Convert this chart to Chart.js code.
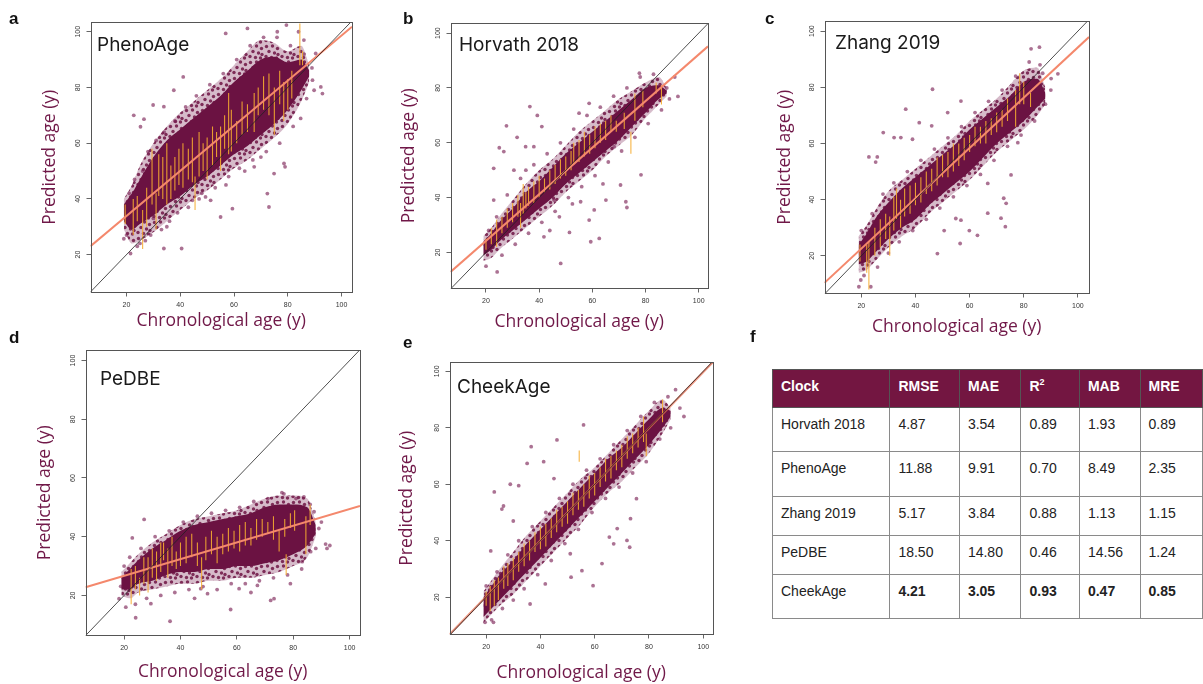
<!DOCTYPE html>
<html>
<head>
<meta charset="utf-8">
<script src="https://cdn.jsdelivr.net/npm/chart.js@4.4.1/dist/chart.umd.min.js"></script>
<style>
  body { margin: 0; background: #fff; width: 1203px; height: 684px; position: relative; overflow: hidden; }
  canvas { position: absolute; }
  .letter { position: absolute; font: bold 17px Arial, "Liberation Sans", sans-serif; line-height: 17px; color: #111; }
  .name { position: absolute; font: 19px Inter, sans-serif; line-height: 19px; color: #1a1a1a; white-space: nowrap; }
  #tbl { position: absolute; left: 772px; top: 369px; border-collapse: collapse; table-layout: fixed;
         font: 14px Arial, "Liberation Sans", sans-serif; color: #222; }
  #tbl td { border: 1px solid #8a8a8a; vertical-align: top; padding: 8px 0 0 8px; line-height: 16px; white-space: nowrap; }
  #tbl tr.head td { background: #731641; color: #fff; font-weight: bold; border-color: #555; }
  #tbl sup { font-size: 9px; line-height: 0; vertical-align: 6px; }
</style>
</head>
<body>
<script>
// shared age grid for the cloud outlines
const ageBins = [19, 22, 25, 30, 35, 40, 45, 50, 55, 60, 65, 70, 75, 80, 85, 88];
const tickValues = [20, 40, 60, 80, 100];

// a - PhenoAge
const aOuterLow  = [29, 24, 25, 28, 32, 36, 40, 43, 47, 51, 54, 58, 62, 67, 75, 82];
const aOuterHigh = [40, 45, 52, 60, 66, 71, 75, 79, 83, 88, 93, 97, 96, 93, 95, 88];
const aInnerLow  = [32, 29, 31, 34, 38, 41, 45, 48, 52, 56, 59, 63, 67, 72, 79, 84];
const aInnerHigh = [38, 42, 47, 55, 61, 65, 69, 73, 77, 82, 86, 90, 91, 89, 90, 86];
const aFit = [6.6, 23, 103.9, 101.8];
const aPoints = [[22.7,70],[25.2,65.9],[26.5,68.6],[29.9,73.7],[33.9,73.1],[41.1,83.8],[37.6,79],[56.9,99.4],[65,101.2],[76.1,100],[79.5,102.4],
  [33.9,22.2],[40.5,22.2],[55,33.5],[59.4,36.5],[73,37.1],[72.4,41.9],[78.6,52.7],[79,51.5],[74.9,49.1],[67.5,51.5],[89.8,79],[92.3,80.2],
  [92.9,77.8],[90.4,92.2],[89.2,82.6],[84.8,68.9],[21.5,20.4],[19,25.7],[44.5,39.5],[49.4,40.7],[51.3,39.5],
  [20,27],[21,42],[23,47],[24,23],[26,50],[27,25],[28,57],[29,27],[31,61],[33,29],[34,64],[36,32],[38,68],[39,35],[42,73],[43,37],[46,77],
  [47,40],[51,81],[53,44],[56,85],[58,48],[61,90],[62,51],[66,95],[67,54],[71,98],[72,57],[76,98],[77,60],[81,95],[82,66],[86,97],[87,76],
  [89,87],[84,100],[86,92],[70,55],[64,50],[57,45],[48,42],[35,30],[30,33],[25,24]];
const aBars = [[19.5,31,38],[22.5,27,40],[24,32,41],[26,22,36],[27.5,30,44],[29.5,38,58],[31,29,42],[32,41,56],[33.5,40,55],[35,38,60],
  [36.5,40,52],[38,43,55],[39.5,45,58],[41,44,60],[43,47,58],[44.5,46,62],[45.5,36,48],[47,48,64],[48.5,50,60],[50,47,62],[52,52,66],
  [53.5,55,64],[55,50,66],[56.5,58,70],[58,56,78],[59,57,72],[61,60,68],[63,63,75],[65,64,74],[67.5,64,78],[69,70,80],[71,72,84],
  [73,70,85],[75,63,80],[77,74,86],[78.5,68,82],[80,72,83],[81.5,76,86],[84.5,88,103],[85.5,88,93]];

// b - Horvath 2018
const bOuterLow  = [17, 18, 21, 25, 29, 33, 37, 42, 46, 50, 55, 59, 63, 69, 74, 77];
const bOuterHigh = [26, 29, 33, 39, 45, 50, 54, 59, 64, 68, 72, 76, 79, 82, 84, 80];
const bInnerLow  = [19, 21, 24, 28, 32, 36, 40, 45, 49, 53, 57, 61, 66, 71, 76, 78];
const bInnerHigh = [24, 27, 31, 36, 42, 46, 51, 56, 60, 64, 68, 72, 76, 80, 81, 79];
const bFit = [6.65, 12.9, 103.5, 95.2];
const bPoints = [[22.9,39.1],[22.9,50.7],[27.7,66.2],[39.3,70],[36.5,73.2],[41,65.9],[31.7,62],[25,58.2],[26.7,56.8],[34.9,58.6],[38,58.6],
  [30.5,50],[48.1,16],[24.2,12.9],[41.8,25.7],[51.4,27.3],[59.4,23.9],[62.6,25.1],[55.6,38.5],[58.8,31.8],[72.6,38.5],[73,36.4],[65.1,39.1],
  [78.3,48.3],[60.7,35.5],[70.6,44.6],[52.5,37.7],[45.6,39.1],[47.6,33],[92.2,76.9],[91,84],[77.7,85.4],[58.8,74.4],[55,70.8],[68.2,58.6],
  [20,15],[21,28],[24,33],[26,19],[28,41],[31,23],[33,47],[36,27],[38,52],[41,31],[43,56],[46,35],[48,60],[51,40],[53,65],[56,44],[58,70],
  [61,48],[63,73],[66,53],[68,77],[71,57],[73,80],[76,62],[78,84],[81,67],[83,85],[86,72],[88,80],[89,76],[44,28],[64,45],[35,50]];
const bBars = [[20,21,25],[22,23,29],[24,22,32],[26,27,33],[28,29,36],[30,31,38],[32,33,41],[33,29,38],[34,34,45],[35,36,42],[36,37,44],
  [38,38,46],[40,40,48],[42,42,47],[44,43,50],[46,45,52],[48,47,54],[50,48,55],[52,50,57],[53,52,60],[55,53,61],[57,55,64],[59,56,63],
  [61,58,66],[63,60,67],[65,61,68],[67,64,70],[69,64,68],[72,65,71],[74.5,56,64],[76,68,78],[79,73,79],[84,78,82],[86,74,81]];

// c - Zhang 2019
const cOuterLow  = [14, 15, 18, 23, 27, 30, 35, 39, 43, 47, 52, 57, 61, 65, 70, 74];
const cOuterHigh = [27, 31, 36, 43, 47, 51, 55, 59, 63, 68, 72, 76, 81, 86, 87, 80];
const cInnerLow  = [17, 18, 21, 26, 30, 33, 38, 42, 46, 50, 55, 60, 64, 68, 73, 76];
const cInnerHigh = [24, 28, 33, 39, 44, 48, 52, 56, 60, 65, 69, 73, 77, 82, 83, 78];
const cFit = [6.4, 10.4, 104.1, 97.9];
const cPoints = [[22.8,55.2],[25.9,55.2],[25.3,53.4],[28.1,63.9],[32.1,62.1],[36.4,72.2],[34.6,62.1],[38.9,61.5],[41.4,67.4],[46.3,79.3],
  [46,66.3],[51.9,71],[56.8,75.1],[48.1,20.8],[56.5,24.4],[62.9,27.3],[50.6,29],[54.9,33.3],[56.8,32.7],[59.9,29],[66.7,35.2],[71.6,33.4],
  [73.2,30.4],[72.6,40.5],[73.5,38.7],[75.3,48.8],[66.7,45.8],[77.8,60.3],[85.8,94.3],[82.7,93.7],[92.6,84.8],[90.1,83.1],[19.1,9],[23.5,9],
  [19.8,11.4],[20,29],[21,13],[24,35],[26,16],[28,42],[30,21],[32,46],[34,25],[37,50],[39,29],[42,54],[44,33],[47,58],[49,37],[52,62],
  [54,41],[57,66],[59,45],[62,71],[64,49],[67,75],[69,54],[72,79],[74,59],[77,84],[79,63],[82,89],[84,68],[87,85],[88,74],[90,79],[86,88]];
const cBars = [[19.5,18,24],[22,14,24],[22.8,8,25],[25,20,30],[27,23,33],[29,26,35],[30.5,20,34],[32,29,41],[33,33,44],[34.5,30,40],
  [36,34,44],[38,35,45],[40,38,46],[42,39,48],[44,42,50],[46,43,51],[48,45,55],[50,48,56],[52,48,57],[54,50,60],[56,52,60],[58,54,62],
  [60,57,63],[62,59,66],[64,60,66],[66,60,68],[68,63,69],[70,64,71],[72,66,72],[74,68,76],[77,66,79],[78.5,74,85],[80,74,82],[82.5,73,78]];

// d - PeDBE
const dOuterLow  = [20, 19, 21, 22, 23, 24, 24, 25, 25, 26, 26, 27, 28, 30, 33, 40];
const dOuterHigh = [28, 31, 34, 38, 41, 44, 46, 47, 48, 49, 51, 53, 54, 54, 53, 45];
const dInnerLow  = [22, 22, 24, 25, 27, 28, 28, 29, 29, 30, 30, 31, 32, 34, 37, 41];
const dInnerHigh = [26, 29, 32, 36, 39, 42, 44, 45, 46, 47, 48, 50, 51, 51, 50, 44];
const dFit = [6.3, 22.8, 103.7, 50.5];
const dPoints = [[18.8,23.1],[18.2,18.9],[20.6,16],[24.1,12.4],[36.3,11.2],[57.8,15.2],[29.5,17.2],[27.1,45.9],[22.9,39.6],[91.5,37.5],
  [93,37],[89.1,42.8],[87.4,48.5],[86.2,34.9],[83.2,31.5],[73.2,18.9],[72,18.3],[67.3,23.4],[60.8,22.3],[49.6,20.6],[47.2,22.3],[76.7,54.6],
  [83.8,53.6],[20,30],[22,33],[24,17],[26,36],[28,19],[31,40],[33,20],[36,42],[38,21],[41,45],[43,22],[46,47],[48,23],[51,48],[53,22],
  [56,49],[58,24],[61,50],[63,24],[66,52],[68,25],[71,53],[73,26],[76,55],[78,27],[81,53],[83,29],[86,51],[88,36],[90,45],[92,36],[45,19],
  [65,21],[79,24]];
const dBars = [[22.5,17,29],[24,22,30],[25.5,20,26],[27,24,33],[28.5,21,33],[30,26,36],[31.5,25,35],[33,28,38],[34,32,38],[35.5,26,36],
  [37,30,40],[38.5,29,35],[40,30,38],[42,31,40],[44,33,41],[46,30,38],[47.5,22,33],[49,32,40],[51,34,42],[53,31,40],[55,34,41],[57,35,43],
  [59,36,42],[61,35,44],[63,37,45],[65,37,43],[67,39,46],[69,40,46],[71,41,45],[73,39,47],[75,35,42],[77,40,46],[77.5,27,34],[79,43,48],
  [80.5,42,49],[84.5,34,47],[86,44,51]];

// e - CheekAge
const eOuterLow  = [11, 14, 17, 21, 26, 31, 36, 41, 46, 52, 57, 61, 66, 71, 78, 83];
const eOuterHigh = [22, 26, 30, 36, 42, 47, 52, 57, 62, 66, 71, 76, 81, 86, 90, 87];
const eInnerLow  = [13, 16, 19, 24, 29, 34, 39, 44, 49, 54, 59, 64, 69, 74, 80, 84];
const eInnerHigh = [20, 24, 28, 33, 39, 44, 49, 54, 59, 64, 69, 73, 78, 83, 87, 86];
const eFit = [6.5, 6.8, 103.6, 103.3];
const ePoints = [[23,57.3],[28.9,60],[32,59.5],[25.8,51.2],[26.4,52.3],[21.7,36.4],[36.6,73.3],[35.1,67.4],[41.2,68],[46.1,75.7],[55.9,81],
  [36.2,17.6],[41.8,24.7],[51.3,27.1],[59.4,24.1],[55.3,29.4],[51,35.4],[62.7,31.9],[65.4,41.3],[67,38.9],[71.9,40.1],[72.9,37.7],[73.2,47.8],
  [68.3,44.3],[75.4,54.9],[91.4,87],[89.8,93.5],[92.9,84],[19.6,11.1],[22.7,11.1],[20,24],[22,12],[24,29],[26,16],[28,35],[30,19],[32,40],
  [34,23],[37,45],[39,28],[42,50],[44,33],[47,55],[49,39],[52,60],[54,44],[57,65],[59,50],[62,69],[64,55],[67,74],[69,59],[72,79],[74,64],
  [77,84],[79,68],[82,89],[84,76],[87,91],[88,80],[30,47],[45,62]];
const eBars = [[20,17,22],[21.5,15,24],[23,17,26],[24.5,19,27],[26.5,23,31],[28,24,32],[30,26,34],[32,29,36],[34,31,39],[36,33,40],
  [38,36,43],[40,37,45],[42,38,46],[44,41,48],[46,43,51],[48,45,52],[50,46,54],[52,49,57],[54,51,58],[54.3,68,72],[56,52,60],[58,55,63],
  [60,56,64],[62,59,66],[64,61,69],[66,62,70],[68,65,72],[70,66,74],[72,69,77],[74,71,78],[76,73,80],[78,75,84],[79,70,78],[85,82,90]];

// f - table
const clocks = ['Horvath 2018', 'PhenoAge', 'Zhang 2019', 'PeDBE', 'CheekAge'];
const rmse = ['4.87', '11.88', '5.17', '18.50', '4.21'];
const mae  = ['3.54', '9.91', '3.84', '14.80', '3.05'];
const r2   = ['0.89', '0.70', '0.88', '0.46', '0.93'];
const mab  = ['1.93', '8.49', '1.13', '14.56', '0.47'];
const mre  = ['0.89', '2.35', '1.15', '1.24', '0.85'];

const MAROON = '#701848';

// speckled fill for the sparse edge of each cloud
function speckle() {
  const c = document.createElement('canvas');
  c.width = 16; c.height = 16;
  const g = c.getContext('2d');
  g.fillStyle = 'rgba(120,30,80,0.3)';
  g.fillRect(0, 0, 16, 16);
  g.fillStyle = 'rgba(110,20,68,0.85)';
  [[2.5, 2.5], [8.5, 2], [13.5, 4.5], [5, 7.5], [10.5, 9], [14, 10.5], [2, 12.5], [7.5, 13.5], [12.5, 14]].forEach(d => {
    g.beginPath(); g.arc(d[0], d[1], 1.7, 0, Math.PI * 2); g.fill();
  });
  return g.createPattern(c, 'repeat');
}

const boxPlugin = {
  id: 'box',
  afterDraw(chart) {
    const a = chart.chartArea, c = chart.ctx;
    c.save();
    c.strokeStyle = '#555';
    c.lineWidth = 1;
    c.strokeRect(Math.round(a.left) + 0.5, Math.round(a.top) + 0.5, Math.round(a.right - a.left) - 1, Math.round(a.bottom - a.top) - 1);
    c.restore();
  }
};

function band(vals) {
  return ageBins.map((x, i) => ({ x: x, y: vals[i] }));
}

function makePanel(p) {
  const fs = 17.5;
  const lh = fs * 1.2;
  const padTop = 10, padRight = 8;
  const left = p.box[0], top = p.box[1], right = p.box[2], bottom = p.box[3];
  const cLeft = p.yTitle - lh / 2;
  const yW = left - cLeft;
  const xH = p.xTitle + lh / 2 - bottom;
  const cw = Math.round(right - cLeft + padRight);
  const ch = Math.round(padTop + (bottom - top) + xH);

  const cv = document.createElement('canvas');
  cv.width = cw; cv.height = ch;
  cv.style.left = cLeft + 'px';
  cv.style.top = (top - padTop) + 'px';
  cv.style.width = cw + 'px';
  cv.style.height = ch + 'px';
  document.body.appendChild(cv);

  const bars = [];
  p.bars.forEach(b => { bars.push({ x: b[0], y: b[1] }, { x: b[0], y: b[2] }, { x: b[0], y: null }); });

  const tickFont = { family: '"Liberation Sans", Arial, sans-serif', size: 7 };
  const titleFont = { family: '"Open Sans", sans-serif', size: fs };
  const grid = { display: true, drawOnChartArea: false, drawTicks: true, tickLength: 4, color: '#666' };
  const smooth = { pointRadius: 0, borderColor: 'transparent', cubicInterpolationMode: 'monotone' };

  new Chart(cv, {
    type: 'line',
    data: {
      datasets: [
        { data: [{ x: 0, y: 0 }, { x: 110, y: 110 }], borderColor: '#222', borderWidth: 0.8, pointRadius: 0, fill: false },
        { data: [{ x: p.fit[0], y: p.fit[1] }, { x: p.fit[2], y: p.fit[3] }], borderColor: p.fitColor || '#f4886c',
          borderWidth: 2, pointRadius: 0, fill: false },
        { data: bars, borderColor: 'rgba(246,172,48,0.9)', borderWidth: 1.1, pointRadius: 0, fill: false, spanGaps: false },
        { data: p.points.map(d => ({ x: d[0], y: d[1] })), showLine: false, pointRadius: 1.9,
          pointBackgroundColor: 'rgba(120,28,80,0.62)', pointBorderWidth: 0 },
        Object.assign({ data: band(p.innerHigh), fill: '+1', backgroundColor: '#6b1242' }, smooth),
        Object.assign({ data: band(p.innerLow), fill: false }, smooth),
        Object.assign({ data: band(p.outerHigh), fill: '+1', backgroundColor: speckle() }, smooth),
        Object.assign({ data: band(p.outerLow), fill: false }, smooth)
      ]
    },
    options: {
      responsive: false,
      animation: false,
      layout: { padding: { top: padTop, right: padRight, left: 0, bottom: 0 } },
      plugins: { legend: { display: false }, tooltip: { enabled: false } },
      scales: {
        x: {
          type: 'linear', min: p.xr[0], max: p.xr[1],
          grid: grid, border: { display: false },
          afterBuildTicks: s => { s.ticks = tickValues.map(v => ({ value: v })); },
          ticks: { font: tickFont, color: '#333', padding: 4, maxRotation: 0 },
          title: { display: true, text: 'Chronological age (y)', color: MAROON, font: titleFont, padding: 0 },
          afterFit: s => { s.height = xH; }
        },
        y: {
          type: 'linear', min: p.yr[0], max: p.yr[1],
          grid: grid, border: { display: false },
          afterBuildTicks: s => { s.ticks = tickValues.map(v => ({ value: v })); },
          ticks: { font: tickFont, color: '#333', padding: 3, minRotation: 90, maxRotation: 90, crossAlign: 'center' },
          title: { display: true, text: 'Predicted age (y)', color: MAROON, font: titleFont, padding: 0 },
          afterFit: s => { s.width = yW; }
        }
      }
    },
    plugins: [boxPlugin]
  });

  const nm = document.createElement('div');
  nm.className = 'name';
  nm.textContent = p.name;
  nm.style.left = p.nameAt[0] + 'px';
  nm.style.top = p.nameAt[1] + 'px';
  document.body.appendChild(nm);

  const lt = document.createElement('div');
  lt.className = 'letter';
  lt.textContent = p.letter;
  lt.style.left = p.letterAt[0] + 'px';
  lt.style.top = p.letterAt[1] + 'px';
  document.body.appendChild(lt);
}

makePanel({ letter: 'a', name: 'PhenoAge', box: [90, 22, 351, 292], yTitle: 50, xTitle: 321, xr: [6.6, 103.9], yr: [6.4, 103.5],
  outerLow: aOuterLow, outerHigh: aOuterHigh, innerLow: aInnerLow, innerHigh: aInnerHigh, fit: aFit, points: aPoints, bars: aBars,
  nameAt: [97, 35], letterAt: [9, 10] });
makePanel({ letter: 'b', name: 'Horvath 2018', box: [450, 23, 707, 288], yTitle: 409, xTitle: 322, xr: [6.65, 103.5], yr: [6.85, 103.7],
  outerLow: bOuterLow, outerHigh: bOuterHigh, innerLow: bInnerLow, innerHigh: bInnerHigh, fit: bFit, points: bPoints, bars: bBars,
  nameAt: [459, 35], letterAt: [403, 10] });
makePanel({ letter: 'c', name: 'Zhang 2019', box: [824, 21, 1088, 293], yTitle: 785, xTitle: 327, xr: [6.4, 104.1], yr: [6.6, 103.6],
  outerLow: cOuterLow, outerHigh: cOuterHigh, innerLow: cInnerLow, innerHigh: cInnerHigh, fit: cFit, points: cPoints, bars: cBars,
  nameAt: [835, 33], letterAt: [765, 10] });
makePanel({ letter: 'd', name: 'PeDBE', box: [85, 350, 359, 635], yTitle: 45, xTitle: 672, xr: [6.3, 103.7], yr: [6.35, 103.6],
  outerLow: dOuterLow, outerHigh: dOuterHigh, innerLow: dInnerLow, innerHigh: dInnerHigh, fit: dFit, points: dPoints, bars: dBars,
  nameAt: [100, 369], letterAt: [9, 329] });
makePanel({ letter: 'e', name: 'CheekAge', box: [449, 362, 712, 634], yTitle: 407, xTitle: 673, xr: [6.5, 103.6], yr: [6.8, 103.3],
  outerLow: eOuterLow, outerHigh: eOuterHigh, innerLow: eInnerLow, innerHigh: eInnerHigh, fit: eFit, points: ePoints, bars: eBars,
  fitColor: 'rgba(230,110,80,0.75)', nameAt: [457, 377], letterAt: [403, 334] });

// panel f letter and table
const fl = document.createElement('div');
fl.className = 'letter';
fl.textContent = 'f';
fl.style.left = '750px';
fl.style.top = '328px';
document.body.appendChild(fl);

const colW = [118, 70, 62, 59, 61, 63];
const rowH = [38, 44, 45, 39, 39, 44];
const tbl = document.createElement('table');
tbl.id = 'tbl';
const cg = document.createElement('colgroup');
colW.forEach(w => { const c = document.createElement('col'); c.style.width = w + 'px'; cg.appendChild(c); });
tbl.appendChild(cg);
const header = ['Clock', 'RMSE', 'MAE', 'R<sup>2</sup>', 'MAB', 'MRE'];
const hr = tbl.insertRow();
hr.className = 'head';
hr.style.height = rowH[0] + 'px';
header.forEach(h => { const td = hr.insertCell(); td.innerHTML = h; });
clocks.forEach((name, i) => {
  const tr = tbl.insertRow();
  tr.style.height = rowH[i + 1] + 'px';
  const cells = [name, rmse[i], mae[i], r2[i], mab[i], mre[i]];
  cells.forEach((v, j) => {
    const td = tr.insertCell();
    td.textContent = v;
    if (name === 'CheekAge' && j > 0) td.style.fontWeight = 'bold';
  });
});
document.body.appendChild(tbl);
</script>
</body>
</html>
